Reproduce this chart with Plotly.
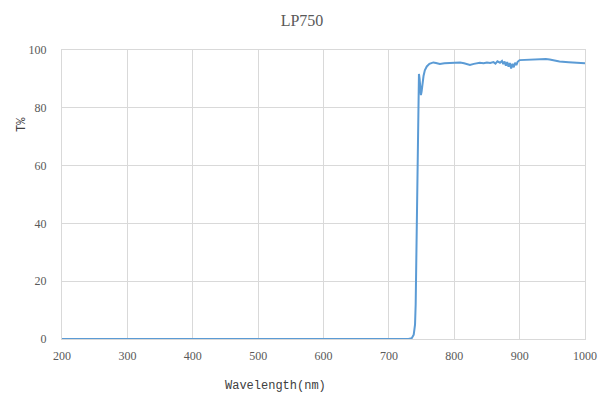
import plotly.graph_objects as go

# wavelength (nm) and transmission (%)
wavelength = [200, 300, 400, 500, 600, 700, 730, 735, 738, 740, 741, 742, 743, 744,
              745, 746, 747, 748, 749, 750, 751, 753, 755, 758, 762, 768, 772, 778,
              785, 793, 800, 809, 815, 820, 824, 830, 835, 839, 845, 850, 855, 860,
              863, 866, 870, 873, 875, 877, 879, 881, 883, 885, 887, 889, 891, 893,
              895, 897, 900, 910, 920, 931, 940, 946, 955, 961, 975, 990, 1000]
transmission = [0, 0, 0, 0, 0, 0, 0, 0.3, 1.5, 5, 12, 28, 50, 72,
                86, 91.7, 90, 86, 84.4, 85.5, 88, 91, 93, 94.3, 95.2, 95.7, 95.5, 95.2,
                95.4, 95.5, 95.4, 95.7, 95.4, 95.2, 94.8, 95.2, 95.5, 95.6, 95.4, 95.7, 95.5, 95.8,
                95.3, 96.1, 95.6, 96.2, 95.1, 96.0, 94.6, 95.8, 94.2, 95.5, 93.6, 95.2, 94.0, 95.6,
                94.8, 95.9, 96.5, 96.6, 96.7, 96.9, 96.9, 96.7, 96.3, 96.0, 95.8, 95.6, 95.4]

x_ticks = [200, 300, 400, 500, 600, 700, 800, 900, 1000]
y_ticks = [0, 20, 40, 60, 80, 100]

fig = go.Figure()
fig.add_trace(go.Scatter(x=wavelength, y=transmission, mode="lines",
                         line=dict(color="#5b9bd5", width=2)))

serif = "Liberation Serif, DejaVu Serif, serif"
mono = "Liberation Mono, DejaVu Sans Mono, monospace"
fig.update_layout(
    width=600, height=399,
    margin=dict(l=54, r=23, t=42, b=68),
    plot_bgcolor="white", paper_bgcolor="white",
    showlegend=False,
    font=dict(family=serif, size=12, color="#595959"),
    title=dict(text="LP750", x=0.49, xanchor="center", y=0.97, yanchor="middle",
               font=dict(family=serif, size=16, color="#595959")),
)
fig.update_xaxes(range=[200, 1000], tickvals=x_ticks, showgrid=True, gridcolor="#d9d9d9",
                 showline=True, linecolor="#d9d9d9", mirror=True, zeroline=False,
                 ticks="", ticklabelstandoff=6)
fig.update_yaxes(range=[0, 100], tickvals=y_ticks, showgrid=True, gridcolor="#d9d9d9",
                 showline=True, linecolor="#d9d9d9", mirror=True, zeroline=False,
                 ticks="", ticklabelstandoff=12)

# axis titles sit off-centre in the original, so place them as annotations
fig.add_annotation(text="Wavelength(nm)", xref="paper", yref="paper",
                   x=(267 - 54) / 523, y=-(378 - 331) / 289, showarrow=False,
                   xanchor="center", yanchor="middle",
                   font=dict(family=mono, size=12, color="#404040"))
fig.add_annotation(text="T%", xref="paper", yref="paper", textangle=-90,
                   x=(14 - 54) / 523, y=1 - (117 - 42) / 289, showarrow=False,
                   xanchor="center", yanchor="middle",
                   font=dict(family=mono, size=12, color="#404040"))

fig.write_html("out.html")
